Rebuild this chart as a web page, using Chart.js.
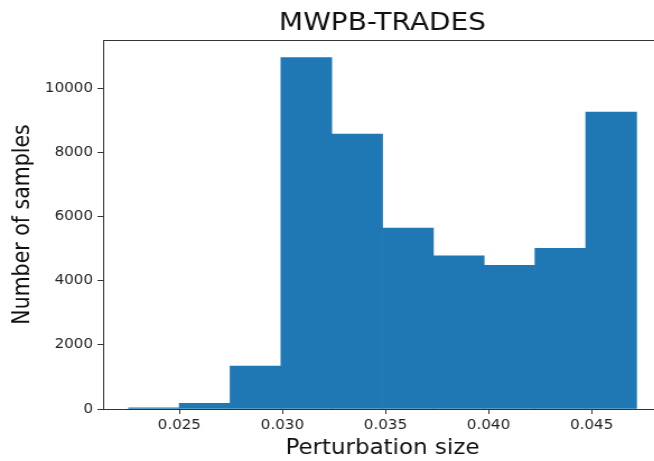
<!DOCTYPE html>
<html>
<head>
<meta charset="utf-8">
<script src="https://cdn.jsdelivr.net/npm/chart.js"></script>
<style>
  html, body { margin: 0; padding: 0; background: #fff; overflow: hidden; }
  #wrap { width: 654px; height: 461px; overflow: hidden; }
  /* the reference is stretched a little horizontally */
  #histChart { transform: scaleX(1.12); transform-origin: 0 0; display: block; }
</style>
</head>
<body>
<div id="wrap"><canvas id="histChart" width="591" height="461"></canvas></div>
<script>
// ===== Histogram data =====
const binEdges = [0.02253, 0.02500, 0.02746, 0.02993, 0.03239, 0.03486, 0.03732, 0.03979, 0.04225, 0.04472, 0.04718];
const counts = [40, 180, 1340, 10950, 8570, 5640, 4770, 4480, 5010, 9250];
const xTicks = [0.025, 0.030, 0.035, 0.040, 0.045];
const yTicks = [0, 2000, 4000, 6000, 8000, 10000];

const axisColor = '#333';
const font = 'DejaVu Sans';

// bars centred in their bins
const bars = counts.map((c, i) => ({ x: (binEdges[i] + binEdges[i + 1]) / 2, y: c }));

// matplotlib style 5% margins on x
const span = binEdges[binEdges.length - 1] - binEdges[0];
const xMin = binEdges[0] - span * 0.05;
const xMax = binEdges[binEdges.length - 1] + span * 0.05;

// title + top/right spines
const framePlugin = {
  id: 'frame',
  afterDraw(chart) {
    const { ctx, chartArea: a } = chart;
    ctx.save();
    ctx.strokeStyle = axisColor;
    ctx.lineWidth = 1;
    ctx.beginPath();
    ctx.moveTo(a.left, a.top + 0.5);
    ctx.lineTo(a.right, a.top + 0.5);
    ctx.lineTo(a.right, a.bottom);
    ctx.stroke();
    ctx.fillStyle = '#111';
    ctx.font = '25px "' + font + '"';
    ctx.textAlign = 'center';
    ctx.textBaseline = 'alphabetic';
    ctx.fillText('MWPB-TRADES', (a.left + a.right) / 2, 29.5);
    ctx.restore();
  }
};

const ctx = document.getElementById('histChart').getContext('2d');
const histChart = new Chart(ctx, {
  type: 'bar',
  data: {
    datasets: [{
      label: 'Number of samples',
      data: bars,
      backgroundColor: '#1f77b4',
      borderWidth: 0,
      barPercentage: 1,
      categoryPercentage: 1
    }]
  },
  options: {
    responsive: false,
    animation: false,
    layout: { padding: { top: 40, left: 0, right: 0, bottom: 0 } },
    plugins: {
      legend: { display: false },
      tooltip: { enabled: false }
    },
    scales: {
      x: {
        type: 'linear',
        min: xMin,
        max: xMax,
        offset: false,
        afterBuildTicks: s => { s.ticks = xTicks.map(v => ({ value: v })); },
        afterFit: s => { s.height = 52; },
        ticks: {
          callback: v => v.toFixed(3),
          color: '#222',
          font: { family: font, size: 13.5 },
          padding: 3,
          maxRotation: 0
        },
        grid: { offset: false, drawOnChartArea: false, drawTicks: true, tickLength: 5, color: axisColor },
        border: { display: true, color: axisColor, width: 1 },
        title: {
          display: true,
          text: 'Perturbation size',
          color: '#111',
          font: { family: font, size: 20.5 },
          padding: { top: 0, bottom: 0 }
        }
      },
      y: {
        min: 0,
        max: 11500,
        afterBuildTicks: s => { s.ticks = yTicks.map(v => ({ value: v })); },
        afterFit: s => { s.width = 92; },
        ticks: {
          callback: v => String(v),
          color: '#222',
          font: { family: font, size: 13.5 },
          padding: 4
        },
        grid: { drawOnChartArea: false, drawTicks: true, tickLength: 5, color: axisColor },
        border: { display: true, color: axisColor, width: 1 },
        title: {
          display: true,
          text: 'Number of samples',
          color: '#111',
          font: { family: font, size: 20.5 },
          padding: { top: 8, bottom: 0 }
        }
      }
    }
  },
  plugins: [framePlugin]
});
</script>
</body>
</html>
